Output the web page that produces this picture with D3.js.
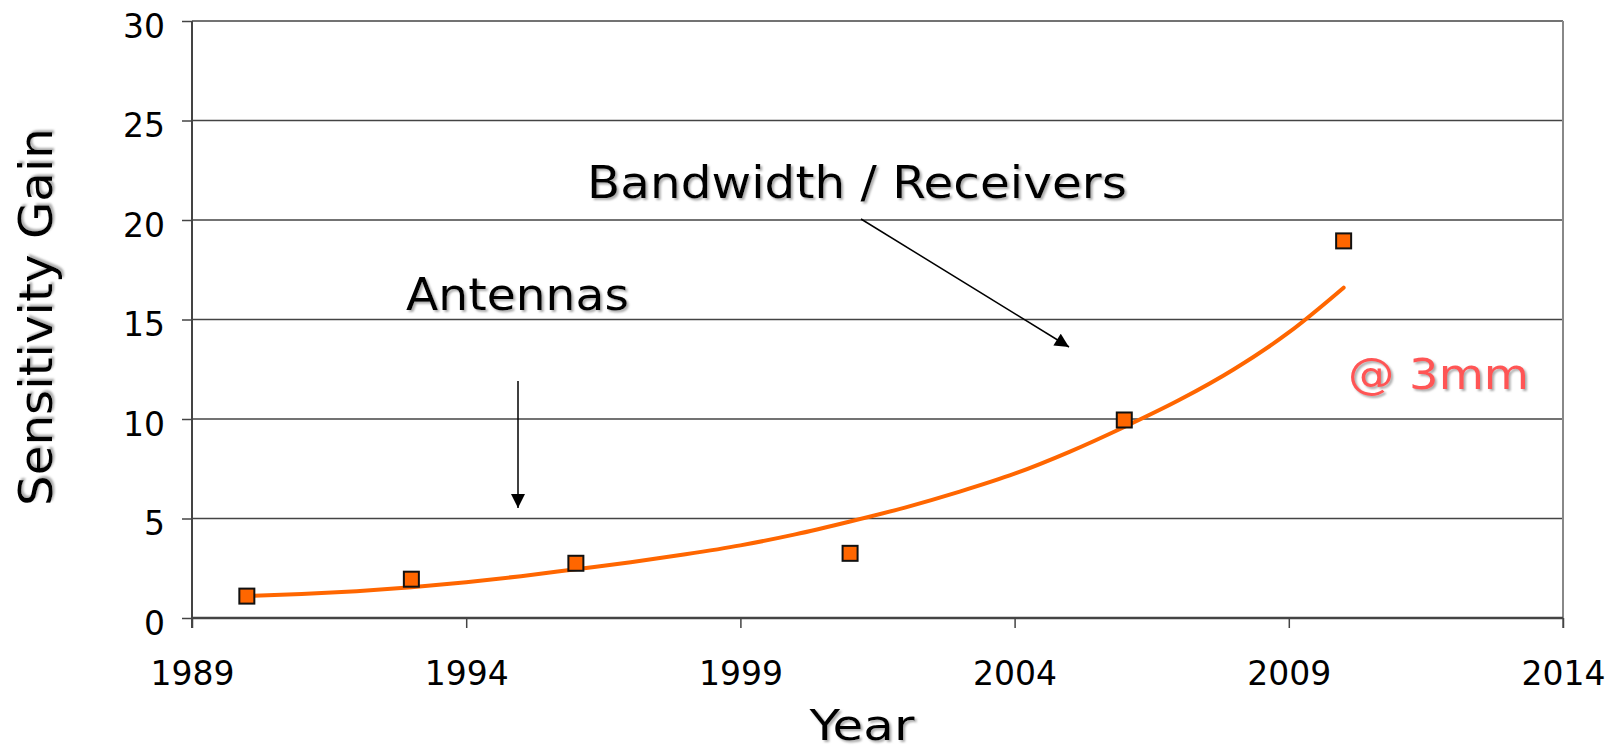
<!DOCTYPE html>
<html>
<head>
<meta charset="utf-8">
<script src="https://cdn.jsdelivr.net/npm/d3@7"></script>
<style>
  html, body { margin: 0; padding: 0; background: #fff; }
  svg { display: block; }
</style>
</head>
<body>
<svg id="chart" width="1612" height="750"></svg>
<script>
// ---- data ----
const markerYears = [1990, 1993, 1996, 2001, 2006, 2010];
const markerValues = [1.1, 1.95, 2.75, 3.25, 9.95, 18.95];

const curveYears = [1990, 1991, 1992, 1993, 1994, 1995, 1996, 1997, 1998, 1999, 2000,
                    2001, 2002, 2003, 2004, 2005, 2006, 2007, 2008, 2009, 2010];
const curveValues = [1.1, 1.2, 1.35, 1.55, 1.8, 2.1, 2.45, 2.8, 3.2, 3.65, 4.2,
                     4.85, 5.55, 6.35, 7.25, 8.35, 9.6, 10.95, 12.5, 14.35, 16.6];

const xTickLabels = [1989, 1994, 1999, 2004, 2009, 2014];
const yTickLabels = [0, 5, 10, 15, 20, 25, 30];

const xTitle = "Year";
const yTitle = "Sensitivity Gain";
const noteBandwidth = "Bandwidth / Receivers";
const noteAntennas = "Antennas";
const noteBand = "@ 3mm";

// ---- layout ----
const svg = d3.select("#chart");
const x = d3.scaleLinear().domain([1989, 2014]).range([192, 1563]);
const y = d3.scaleLinear().domain([0, 30]).range([618, 21]);

const defs = svg.append("defs");
const f = defs.append("filter").attr("id", "shadow")
  .attr("x", "-10%").attr("y", "-30%").attr("width", "130%").attr("height", "160%");
f.append("feDropShadow").attr("dx", 2).attr("dy", 2).attr("stdDeviation", 1)
  .attr("flood-color", "#888").attr("flood-opacity", 0.7);

defs.append("marker").attr("id", "arrow")
  .attr("viewBox", "0 0 10 10").attr("refX", 10).attr("refY", 5)
  .attr("markerWidth", 16).attr("markerHeight", 14)
  .attr("markerUnits", "userSpaceOnUse")
  .attr("orient", "auto")
  .append("path").attr("d", "M0,0 L10,5 L0,10 Z").attr("fill", "#000");

// gridlines
svg.append("g").selectAll("line").data(yTickLabels.filter(d => d > 0)).join("line")
  .attr("x1", x(1989)).attr("x2", x(2014))
  .attr("y1", d => y(d)).attr("y2", d => y(d))
  .attr("stroke", "#444").attr("stroke-width", 1.5);

// right border
svg.append("line").attr("x1", x(2014)).attr("x2", x(2014))
  .attr("y1", y(30)).attr("y2", y(0) + 10)
  .attr("stroke", "#888").attr("stroke-width", 2);

// y axis
const yAxis = d3.axisLeft(y).tickValues(yTickLabels).tickSize(10).tickPadding(0).tickFormat(d3.format("d"));
const gy = svg.append("g").attr("transform", `translate(${x(1989)},0)`).call(yAxis);
gy.select(".domain").attr("stroke", "#444").attr("stroke-width", 2)
  .attr("d", `M0,${y(30)}V${y(0) + 10}`);
gy.selectAll(".tick line").attr("stroke", "#444").attr("stroke-width", 1.5);
gy.selectAll(".tick text")
  .attr("x", -27).attr("dy", null).attr("y", 16)
  .attr("font-family", "'DejaVu Sans', Verdana, sans-serif").attr("font-size", 33)
  .attr("fill", "#000");

// x axis
const xAxis = d3.axisBottom(x).tickValues(xTickLabels).tickSize(10).tickPadding(0).tickFormat(d3.format("d"));
const gx = svg.append("g").attr("transform", `translate(0,${y(0)})`).call(xAxis);
gx.select(".domain").attr("stroke", "#444").attr("stroke-width", 2.5)
  .attr("d", `M${x(1989)},0H${x(2014)}`);
gx.selectAll(".tick line").attr("stroke", "#444").attr("stroke-width", 1.5);
gx.selectAll(".tick text")
  .attr("y", 67).attr("dy", null)
  .attr("font-family", "'DejaVu Sans', Verdana, sans-serif").attr("font-size", 33)
  .attr("fill", "#000");

// curve
const line = d3.line().x((d, i) => x(curveYears[i])).y(d => y(d)).curve(d3.curveMonotoneX);
svg.append("path").datum(curveValues)
  .attr("d", line).attr("fill", "none")
  .attr("stroke", "#FF6600").attr("stroke-width", 4).attr("stroke-linecap", "round");

// markers
svg.append("g").selectAll("rect").data(markerValues).join("rect")
  .attr("x", (d, i) => x(markerYears[i]) - 7.5).attr("y", d => y(d) - 7.5)
  .attr("width", 15).attr("height", 15)
  .attr("fill", "#FF6600").attr("stroke", "#111").attr("stroke-width", 2);

// titles
const titleFont = "'DejaVu Sans Condensed', 'DejaVu Sans', Tahoma, sans-serif";
svg.append("text").text(xTitle)
  .attr("x", 862).attr("y", 740).attr("text-anchor", "middle")
  .attr("font-family", titleFont).attr("font-size", 42)
  .attr("textLength", 105).attr("lengthAdjust", "spacingAndGlyphs")
  .attr("filter", "url(#shadow)");

svg.append("text").text(yTitle)
  .attr("transform", "translate(52,317) rotate(-90)").attr("text-anchor", "middle")
  .attr("font-family", titleFont).attr("font-size", 46)
  .attr("textLength", 378).attr("lengthAdjust", "spacingAndGlyphs")
  .attr("filter", "url(#shadow)");

// annotations
svg.append("text").text(noteBandwidth)
  .attr("x", 587).attr("y", 198)
  .attr("font-family", titleFont).attr("font-size", 44)
  .attr("textLength", 540).attr("lengthAdjust", "spacingAndGlyphs")
  .attr("filter", "url(#shadow)");

svg.append("text").text(noteAntennas)
  .attr("x", 406).attr("y", 310)
  .attr("font-family", titleFont).attr("font-size", 44)
  .attr("textLength", 223).attr("lengthAdjust", "spacingAndGlyphs")
  .attr("filter", "url(#shadow)");

svg.append("text").text(noteBand)
  .attr("x", 1348).attr("y", 389)
  .attr("font-family", "'DejaVu Sans', Verdana, sans-serif").attr("font-size", 42)
  .attr("fill", "#FF5555")
  .attr("textLength", 181).attr("lengthAdjust", "spacingAndGlyphs")
  .attr("filter", "url(#shadow)");

// arrows
svg.append("line").attr("x1", 518).attr("y1", 381).attr("x2", 518).attr("y2", 508)
  .attr("stroke", "#000").attr("stroke-width", 1.5).attr("marker-end", "url(#arrow)");
svg.append("line").attr("x1", 861).attr("y1", 219).attr("x2", 1069).attr("y2", 347)
  .attr("stroke", "#000").attr("stroke-width", 1.5).attr("marker-end", "url(#arrow)");
</script>
</body>
</html>
